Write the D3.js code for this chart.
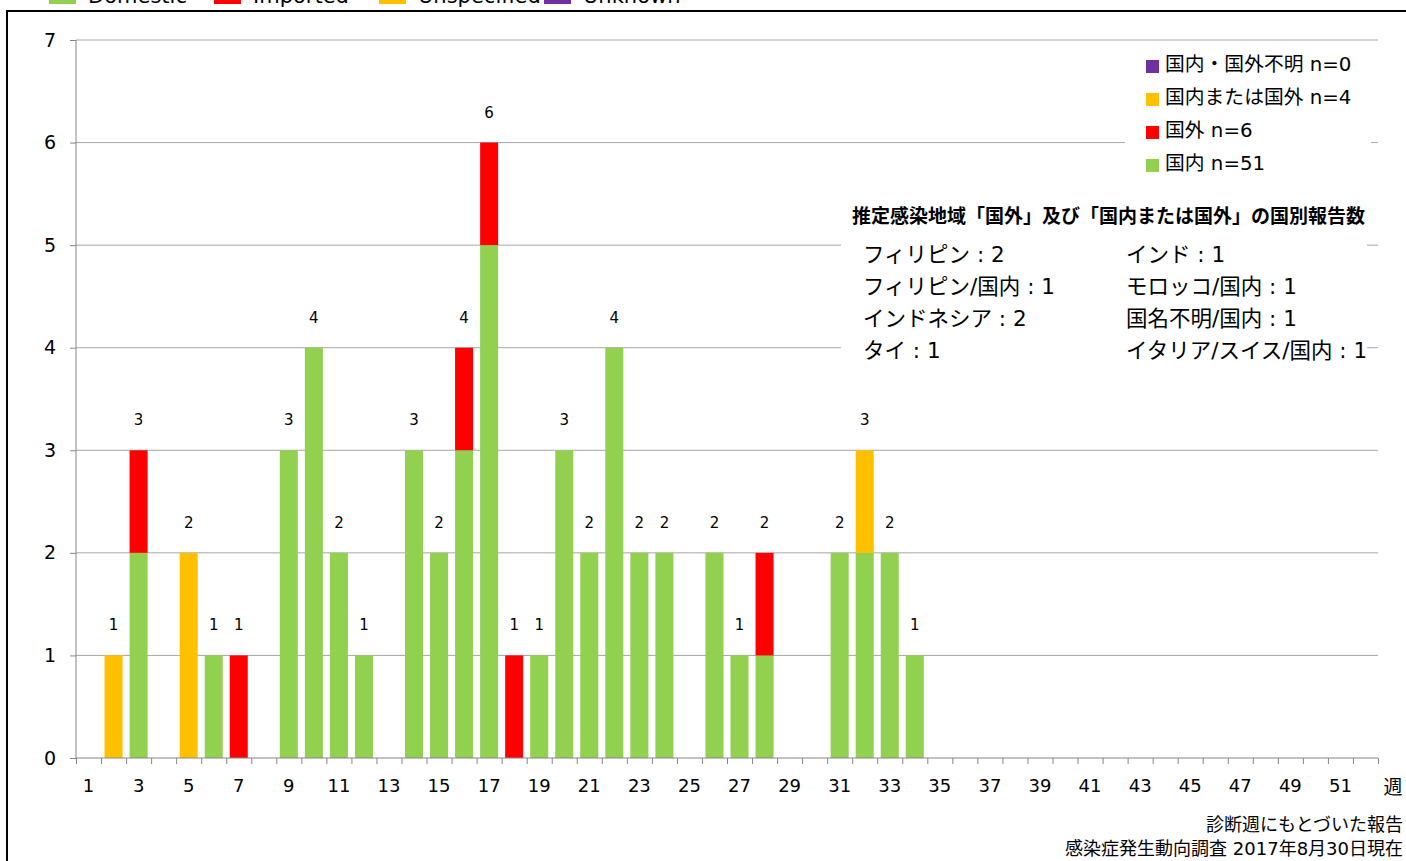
<!DOCTYPE html>
<html>
<head>
<meta charset="utf-8">
<script src="https://cdn.jsdelivr.net/npm/d3@7"></script>
<style>
    body { margin: 0; background: #fff; }
    svg { display: block; font-family: "DejaVu Sans", "Noto Sans CJK JP", sans-serif; }
</style>
</head>
<body>
<div class="container"></div>
<script>
// 週ごとの報告数
var weeks = d3.range(1, 53);
var domestic = {3: 2, 6: 1, 9: 3, 10: 4, 11: 2, 12: 1, 14: 3, 15: 2, 16: 3, 17: 5, 19: 1, 20: 3,
    21: 2, 22: 4, 23: 2, 24: 2, 26: 2, 27: 1, 28: 1, 31: 2, 32: 2, 33: 2, 34: 1};
var imported = {3: 1, 7: 1, 16: 1, 17: 1, 18: 1, 28: 1};
var unspecified = {2: 1, 5: 2, 32: 1};
var unknown = {};

var seriesKeys = ['domestic', 'imported', 'unspecified', 'unknown'];
var seriesColors = ['#92D050', '#FF0000', '#FFC000', '#7030A0'];
var topLegend = ['Domestic', 'Imported', 'Unspecified', 'Unknown'];
var rightLegend = ['国内・国外不明 n=0', '国内または国外 n=4', '国外 n=6', '国内 n=51'];
var rightLegendColors = ['#7030A0', '#FFC000', '#FF0000', '#92D050'];
var yTicks = [0, 1, 2, 3, 4, 5, 6, 7];

var noteTitle = '推定感染地域「国外」及び「国内または国外」の国別報告数';
var noteLeft = ['フィリピン : 2', 'フィリピン/国内 : 1', 'インドネシア : 2', 'タイ : 1'];
var noteRight = ['インド : 1', 'モロッコ/国内 : 1', '国名不明/国内 : 1', 'イタリア/スイス/国内 : 1'];

var table = weeks.map(function (w) {
    return {
        week: w,
        domestic: domestic[w] || 0,
        imported: imported[w] || 0,
        unspecified: unspecified[w] || 0,
        unknown: unknown[w] || 0
    };
});

!function () {
    var W = 1406, H = 861;
    var left = 76, right = 1378, top = 40, bottom = 758;

    var svg = d3.select('.container')
        .append('svg')
        .attr('width', W)
        .attr('height', H);

    // frame
    svg.append('rect')
        .attr('x', 7).attr('y', 11)
        .attr('width', 1440).attr('height', 900)
        .attr('fill', 'none')
        .attr('stroke', '#000')
        .attr('stroke-width', 2);

    // top legend (cut off by the top edge, as in the source)
    var tl = svg.append('g');
    topLegend.forEach(function (t, i) {
        var x0 = 49 + i * 165;
        tl.append('rect').attr('x', x0).attr('y', -10).attr('width', 27).attr('height', 14)
            .attr('fill', seriesColors[i]);
        tl.append('text').attr('x', x0 + 39).attr('y', 3)
            .attr('font-size', 21).attr('fill', '#000').text(t);
    });

    var x = d3.scaleBand()
        .domain(weeks)
        .range([left, right])
        .paddingInner(0.28)
        .paddingOuter(0.14);

    var xEdge = d3.scaleLinear().domain([0, 52]).range([left, right]);

    var y = d3.scaleLinear().domain([0, 7]).range([bottom, top]);

    // gridlines
    svg.append('g')
        .selectAll('line')
        .data(yTicks.slice(1))
        .enter()
        .append('line')
        .attr('x1', left).attr('x2', right)
        .attr('y1', function (d) { return y(d); })
        .attr('y2', function (d) { return y(d); })
        .attr('stroke', '#A6A6A6')
        .attr('stroke-width', 1);

    // stacked bars
    var stack = d3.stack().keys(seriesKeys);
    var layers = stack(table);

    svg.append('g')
        .selectAll('g')
        .data(layers)
        .enter()
        .append('g')
        .attr('fill', function (d, i) { return seriesColors[i]; })
        .selectAll('rect')
        .data(function (d) { return d.filter(function (p) { return p[1] > p[0]; }); })
        .enter()
        .append('rect')
        .attr('x', function (d) { return x(d.data.week); })
        .attr('width', x.bandwidth())
        .attr('y', function (d) { return y(d[1]); })
        .attr('height', function (d) { return y(d[0]) - y(d[1]); });

    // total labels
    svg.append('g')
        .selectAll('text')
        .data(table.filter(function (d) {
            return d.domestic + d.imported + d.unspecified + d.unknown > 0;
        }))
        .enter()
        .append('text')
        .attr('x', function (d) { return x(d.week) + x.bandwidth() / 2; })
        .attr('y', function (d) {
            return y(d.domestic + d.imported + d.unspecified + d.unknown) - 25;
        })
        .attr('text-anchor', 'middle')
        .attr('font-size', 15)
        .attr('fill', '#000')
        .text(function (d) { return d.domestic + d.imported + d.unspecified + d.unknown; });

    // y axis
    var yAxis = d3.axisLeft(y)
        .tickValues(yTicks)
        .tickSize(6)
        .tickPadding(14)
        .tickFormat(d3.format('d'));

    var gy = svg.append('g')
        .attr('transform', 'translate(' + left + ',0)')
        .call(yAxis);
    gy.select('.domain').attr('stroke', '#868686').attr('d', 'M0,' + top + 'V' + bottom);
    gy.selectAll('line').attr('stroke', '#868686');
    gy.selectAll('text').attr('font-size', 19).attr('fill', '#000')
        .attr('font-family', '"DejaVu Sans", sans-serif');

    // x axis ticks at week boundaries
    var xTickAxis = d3.axisBottom(xEdge)
        .tickValues(d3.range(0, 53))
        .tickSize(6)
        .tickFormat('');
    var gx = svg.append('g')
        .attr('transform', 'translate(0,' + bottom + ')')
        .call(xTickAxis);
    gx.select('.domain').attr('stroke', '#868686').attr('d', 'M' + left + ',0H' + right);
    gx.selectAll('line').attr('stroke', '#868686');

    // x labels, odd weeks
    var xAxis = d3.axisBottom(x)
        .tickValues(weeks.filter(function (w) { return w % 2 === 1; }))
        .tickSize(0)
        .tickPadding(21);
    var gxl = svg.append('g')
        .attr('transform', 'translate(0,' + bottom + ')')
        .call(xAxis);
    gxl.select('.domain').remove();
    gxl.selectAll('text').attr('font-size', 18).attr('fill', '#000')
        .attr('font-family', '"DejaVu Sans", sans-serif');

    svg.append('text')
        .attr('x', 1393).attr('y', 794)
        .attr('text-anchor', 'middle')
        .attr('font-size', 19)
        .text('週');

    // right legend box
    svg.append('rect')
        .attr('x', 1125).attr('y', 46)
        .attr('width', 246).attr('height', 138)
        .attr('fill', '#fff');
    var rl = svg.append('g');
    rightLegend.forEach(function (t, i) {
        var yy = 64 + i * 33;
        rl.append('rect').attr('x', 1146).attr('y', yy - 4).attr('width', 13).attr('height', 13)
            .attr('fill', rightLegendColors[i]);
        rl.append('text').attr('x', 1165).attr('y', yy + 7)
            .attr('font-size', 19.8).attr('fill', '#000').text(t);
    });

    // country note box
    svg.append('rect')
        .attr('x', 841).attr('y', 196)
        .attr('width', 526).attr('height', 176)
        .attr('fill', '#fff');
    svg.append('text')
        .attr('x', 852).attr('y', 223)
        .attr('font-size', 19).attr('font-weight', 'bold')
        .attr('font-family', '"Noto Sans CJK JP", sans-serif')
        .text(noteTitle);
    noteLeft.forEach(function (t, i) {
        svg.append('text').attr('x', 863).attr('y', 262 + i * 32)
            .attr('font-size', 21.5).text(t);
    });
    noteRight.forEach(function (t, i) {
        svg.append('text').attr('x', 1126).attr('y', 262 + i * 32)
            .attr('font-size', 21.5).text(t);
    });

    // source notes
    svg.append('text')
        .attr('x', 1403).attr('y', 831)
        .attr('text-anchor', 'end')
        .attr('font-size', 18)
        .text('診断週にもとづいた報告');
    svg.append('text')
        .attr('x', 1403).attr('y', 855)
        .attr('text-anchor', 'end')
        .attr('font-size', 18)
        .text('感染症発生動向調査 2017年8月30日現在');
}();
</script>
</body>
</html>
